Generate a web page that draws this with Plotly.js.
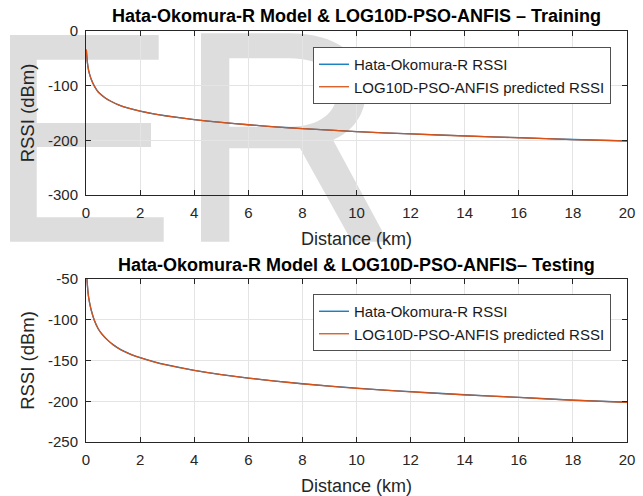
<!DOCTYPE html>
<html>
<head>
<meta charset="utf-8">
<script src="https://cdn.plot.ly/plotly-3.0.1.min.js"></script>
<style>
  html, body { margin: 0; padding: 0; background: #ffffff; }
  #chart { width: 643px; height: 496px; }
</style>
</head>
<body>
<div id="chart"></div>
<script>
// Distances (km) and RSSI (dBm) for the training set
const distTrain = [0.012, 0.03, 0.05, 0.075, 0.1, 0.15, 0.2, 0.3, 0.4, 0.5, 0.7, 0.9, 1.2, 1.6, 2, 2.5, 3, 4, 5, 6, 7, 8, 10, 12, 14, 16, 18, 20];
const hataTrain = [-34, -46, -57, -66, -73, -82, -89, -100, -108, -114, -122, -128, -135, -141.5, -146.5, -151.5, -155.5, -162, -167.2, -171.5, -175.2, -178.5, -184, -188.3, -192, -195.2, -198.5, -201];
const anfisTrain = [-34.5, -46.3, -57.2, -66.1, -73.1, -82, -89, -100.1, -108, -114, -122, -128.1, -135, -141.6, -146.6, -151.5, -155.6, -162.1, -167.3, -171.5, -175.3, -178.6, -184.1, -188.3, -192.1, -195.3, -198.6, -201.2];

// Distances (km) and RSSI (dBm) for the testing set
const distTest = [0.025, 0.04, 0.06, 0.08, 0.1, 0.15, 0.2, 0.3, 0.45, 0.6, 0.8, 1, 1.3, 1.7, 2, 2.5, 3, 4, 5, 6, 7, 8, 9, 10, 12, 14, 16, 18, 20];
const hataTest = [-42, -52, -61, -68, -73, -82, -89, -100, -111, -118, -125, -130.5, -137, -143, -146.5, -151.5, -155.5, -162, -167.2, -171.5, -175.2, -178.5, -181.4, -184, -188.3, -192, -195.2, -198.6, -201.2];
const anfisTest = [-42.3, -52.2, -61.1, -68.1, -73.1, -82, -89.1, -100, -111, -118.1, -125, -130.6, -137.1, -143, -146.6, -151.6, -155.6, -162.1, -167.3, -171.6, -175.3, -178.6, -181.5, -184.1, -188.4, -192.1, -195.3, -198.8, -201.5];

const xTicks = [0, 2, 4, 6, 8, 10, 12, 14, 16, 18, 20];
const yTicksTrain = [0, -100, -200, -300];
const yTicksTest = [-50, -100, -150, -200, -250];

const seriesNames = ['Hata-Okomura-R RSSI', 'LOG10D-PSO-ANFIS predicted RSSI'];
const titles = ['Hata-Okomura-R Model & LOG10D-PSO-ANFIS \u2013 Training',
                'Hata-Okomura-R Model & LOG10D-PSO-ANFIS\u2013 Testing'];

const FONT = '"Liberation Sans", Arial, Helvetica, sans-serif';
const INK = '#262626';
const BLUE = '#0072BD';
const ORANGE = '#D95319';

// Page geometry (pixels) used for paper-coordinate conversion
const M = { l: 86, r: 16, t: 31, b: 54 };
const W = 643, H = 496;
const PW = W - M.l - M.r, PH = H - M.t - M.b;
const px = x => ((x - M.l) / PW).toFixed(4);
const py = y => ((H - M.b - y) / PH).toFixed(4);
const pt = (x, y) => px(x) + ',' + py(y);

// Large light-grey letters behind the upper panel
const letterE = 'M' + pt(10, 35) + ' L' + pt(158.7, 35) + ' L' + pt(158.7, 59.7) + ' L' + pt(36.7, 59.7) +
  ' L' + pt(36.7, 123) + ' L' + pt(151, 123) + ' L' + pt(151, 147) + ' L' + pt(36.7, 147) +
  ' L' + pt(36.7, 217.3) + ' L' + pt(163.7, 217.3) + ' L' + pt(163.7, 241.7) + ' L' + pt(10, 241.7) + ' Z';
const letterR = 'M' + pt(201, 241.7) + ' L' + pt(201, 33.3) + ' L' + pt(290, 33.3) +
  ' C' + pt(335, 33.3) + ' ' + pt(366, 55) + ' ' + pt(366, 90) +
  ' C' + pt(366, 115) + ' ' + pt(352, 132) + ' ' + pt(333, 140) +
  ' L' + pt(388, 241.7) + ' L' + pt(352, 241.7) + ' L' + pt(300, 148.3) +
  ' L' + pt(229.3, 148.3) + ' L' + pt(229.3, 241.7) + ' Z' +
  ' M' + pt(229.3, 58.3) + ' L' + pt(229.3, 126.7) + ' L' + pt(290, 126.7) +
  ' C' + pt(320, 126.7) + ' ' + pt(337, 112) + ' ' + pt(337, 92) +
  ' C' + pt(337, 72) + ' ' + pt(320, 58.3) + ' ' + pt(290, 58.3) + ' Z';

function line(x, y, name, color, xa, ya, legend) {
  return {
    type: 'scatter', mode: 'lines', x: x, y: y, name: name,
    xaxis: xa, yaxis: ya, legend: legend,
    line: { color: color, width: 1.3, shape: 'spline', smoothing: 0.6 },
    hoverinfo: 'x+y'
  };
}

const traces = [
  line(distTrain, hataTrain, seriesNames[0], BLUE, 'x', 'y', 'legend'),
  line(distTrain, anfisTrain, seriesNames[1], ORANGE, 'x', 'y', 'legend'),
  line(distTest, hataTest, seriesNames[0], BLUE, 'x2', 'y2', 'legend2'),
  line(distTest, anfisTest, seriesNames[1], ORANGE, 'x2', 'y2', 'legend2')
];

function xAxis(anchor) {
  return {
    anchor: anchor, domain: [0, 1], range: [0, 20],
    tickvals: xTicks, ticktext: xTicks.map(String),
    ticks: 'inside', ticklen: 5, tickwidth: 1, tickcolor: INK,
    showline: true, linecolor: INK, linewidth: 1, mirror: 'allticks',
    showgrid: true, gridcolor: '#e4e4e4', gridwidth: 1, zeroline: false,
    tickfont: { family: FONT, size: 15, color: INK },
    ticklabelstandoff: 4,
    title: { text: 'Distance (km)', font: { family: FONT, size: 18, color: INK }, standoff: 12 }
  };
}
function yAxis(anchor, domain, range, ticks) {
  return {
    anchor: anchor, domain: domain, range: range,
    tickvals: ticks, ticktext: ticks.map(String),
    ticks: 'inside', ticklen: 5, tickwidth: 1, tickcolor: INK,
    showline: true, linecolor: INK, linewidth: 1, mirror: 'allticks',
    showgrid: true, gridcolor: '#e4e4e4', gridwidth: 1, zeroline: false,
    tickfont: { family: FONT, size: 15, color: INK },
    ticklabelstandoff: 4,
    title: { text: 'RSSI (dBm)', font: { family: FONT, size: 18.5, color: INK }, standoff: 8 }
  };
}
function legendBox(yTop) {
  return {
    x: Number(px(611)), xanchor: 'right', y: Number(py(yTop)), yanchor: 'top',
    bgcolor: '#ffffff', bordercolor: '#505050', borderwidth: 1,
    font: { family: FONT, size: 15, color: '#1a1a1a' },
    tracegroupgap: 0
  };
}

const layout = {
  width: W, height: H,
  margin: { l: M.l, r: M.r, t: M.t, b: M.b, pad: 0 },
  paper_bgcolor: '#ffffff',
  plot_bgcolor: 'rgba(0,0,0,0)',
  showlegend: true,
  font: { family: FONT, color: INK },
  xaxis: xAxis('y'),
  yaxis: yAxis('x', [(H - M.b - 195) / PH, 1], [-300, 0], yTicksTrain),
  xaxis2: xAxis('y2'),
  yaxis2: yAxis('x2', [0, (H - M.b - 279) / PH], [-250, -50], yTicksTest),
  legend: legendBox(47),
  legend2: legendBox(294),
  shapes: [
    { type: 'path', xref: 'paper', yref: 'paper', layer: 'below', path: letterE,
      fillcolor: '#dddddd', line: { width: 0 } },
    { type: 'path', xref: 'paper', yref: 'paper', layer: 'below', path: letterR,
      fillcolor: '#dddddd', line: { width: 0 } }
  ],
  annotations: [
    { text: titles[0], xref: 'paper', yref: 'paper', x: 0.5, y: Number(py(16)),
      xanchor: 'center', yanchor: 'middle', showarrow: false,
      font: { family: FONT, size: 18, color: '#000000', weight: 'bold' } },
    { text: titles[1], xref: 'paper', yref: 'paper', x: 0.5, y: Number(py(265)),
      xanchor: 'center', yanchor: 'middle', showarrow: false,
      font: { family: FONT, size: 18, color: '#000000', weight: 'bold' } }
  ]
};

Plotly.newPlot('chart', traces, layout, { displayModeBar: false, staticPlot: true });
</script>
</body>
</html>
